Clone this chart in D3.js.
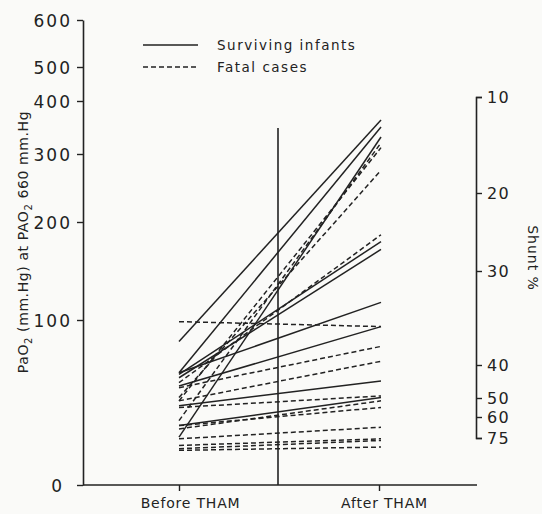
<!DOCTYPE html>
<html lang="en">
<head>
<meta charset="UTF-8">
<title>PaO2 before and after THAM</title>
<style>
    body { margin: 0; background: #fafaf8; }
    svg { display: block; }
    text { font-family: "DejaVu Sans", sans-serif; fill: #222; }
</style>
</head>
<body>
<svg width="542" height="514"></svg>
<script src="https://d3js.org/d3.v7.min.js"></script>
<script>
    // PaO2 (mm Hg) before -> after THAM
    const survivingBefore = [87, 68, 29, 67, 65, 68, 60, 48, 36];
    const survivingAfter  = [364, 351, 332, 180, 172, 118, 96, 63, 53];
    const fatalBefore = [99, 39, 51, 53, 62, 59, 51, 47, 34, 36, 28, 24, 22, 21];
    const fatalAfter  = [96, 321, 312, 276, 187, 84, 75, 54, 51, 47, 35, 28, 27, 23];

    const paoTicks = [0, 100, 200, 300, 400, 500, 600];
    const shuntTicks = [10, 20, 30, 40, 50, 60, 75];
    const phases = ["Before THAM", "After THAM"];

    const svg = d3.select("svg");

    // the paper's PaO2 axis is non-linear, so piece it together from the tick positions
    const y = d3.scaleLinear().domain(paoTicks).range([485, 320, 222, 154, 101, 67, 20]);
    const yShunt = d3.scaleLinear().domain(shuntTicks).range([97, 193, 271, 365, 398, 417, 438]);
    const x = d3.scalePoint().domain(phases).range([179, 379]);

    // left axis
    const left = svg.append("g").attr("transform", "translate(83,0)")
        .call(d3.axisLeft(y).tickValues(paoTicks).tickSize(6).tickSizeOuter(0).tickPadding(5));
    left.select(".domain").attr("stroke", "#222").attr("stroke-width", 1.6);
    left.selectAll(".tick line").attr("stroke", "#222").attr("stroke-width", 1.4);
    left.selectAll(".tick text")
        .attr("font-size", 17).attr("letter-spacing", 2)
        .attr("dx", d => d === 0 ? -8 : 0)
        .attr("dy", "0.4em");

    // bottom axis
    const bottom = svg.append("g").attr("transform", "translate(0,485)")
        .call(d3.axisBottom(x).tickSize(6).tickSizeOuter(0).tickPadding(7));
    bottom.select(".domain").attr("d", "M83,0H477").attr("stroke", "#222").attr("stroke-width", 1.6);
    bottom.selectAll(".tick line").attr("stroke", "#222").attr("stroke-width", 1.4);
    bottom.selectAll(".tick text")
        .attr("font-size", 14).attr("letter-spacing", 0.8)
        .attr("dx", (d, i) => i === 0 ? 11 : 5);

    // right axis: shunt %
    const right = svg.append("g").attr("transform", "translate(476,0)")
        .call(d3.axisRight(yShunt).tickValues(shuntTicks).tickSize(6).tickSizeOuter(6).tickPadding(5));
    right.select(".domain").attr("stroke", "#222").attr("stroke-width", 1.6);
    right.selectAll(".tick line").attr("stroke", "#222").attr("stroke-width", 1.4);
    right.selectAll(".tick text").attr("font-size", 16).attr("letter-spacing", 1.2);

    // centre divider
    svg.append("line")
        .attr("x1", 278).attr("x2", 278)
        .attr("y1", 128).attr("y2", 485)
        .attr("stroke", "#222").attr("stroke-width", 1.6);

    const lines = svg.append("g");
    function drawPairs(before, after, dashed) {
        lines.selectAll(null)
            .data(before.map((b, i) => [b, after[i]]))
            .enter().append("line")
            .attr("x1", x(phases[0])).attr("y1", d => y(d[0]))
            .attr("x2", x(phases[1]) + 2).attr("y2", d => y(d[1]))
            .attr("stroke", "#222")
            .attr("stroke-width", 1.5)
            .attr("stroke-dasharray", dashed ? "5,3" : null);
    }
    drawPairs(fatalBefore, fatalAfter, true);
    drawPairs(survivingBefore, survivingAfter, false);

    // legend
    const legend = svg.append("g");
    [["Surviving infants", null], ["Fatal cases", "5,3"]].forEach((d, i) => {
        legend.append("line")
            .attr("x1", 143).attr("x2", 198)
            .attr("y1", 45 + i * 22).attr("y2", 45 + i * 22)
            .attr("stroke", "#222").attr("stroke-width", 1.5)
            .attr("stroke-dasharray", d[1]);
        legend.append("text")
            .attr("x", 217).attr("y", 50 + i * 22)
            .attr("font-size", 13.5).attr("letter-spacing", 1.5)
            .text(d[0]);
    });

    // axis titles
    const yTitle = svg.append("text")
        .attr("transform", "translate(28,242) rotate(-90)")
        .attr("text-anchor", "middle")
        .attr("font-size", 14).attr("letter-spacing", 0.6);
    yTitle.append("tspan").text("Pa");
    yTitle.append("tspan").text("O");
    yTitle.append("tspan").attr("font-size", 10).attr("dy", 4).text("2");
    yTitle.append("tspan").attr("dy", -4).text(" (mm.Hg) at PA");
    yTitle.append("tspan").text("O");
    yTitle.append("tspan").attr("font-size", 10).attr("dy", 4).text("2");
    yTitle.append("tspan").attr("dy", -4).text(" 660 mm.Hg");

    svg.append("text")
        .attr("transform", "translate(528,258) rotate(90)")
        .attr("text-anchor", "middle")
        .attr("font-size", 14).attr("letter-spacing", 1)
        .text("Shunt %");
</script>
</body>
</html>
